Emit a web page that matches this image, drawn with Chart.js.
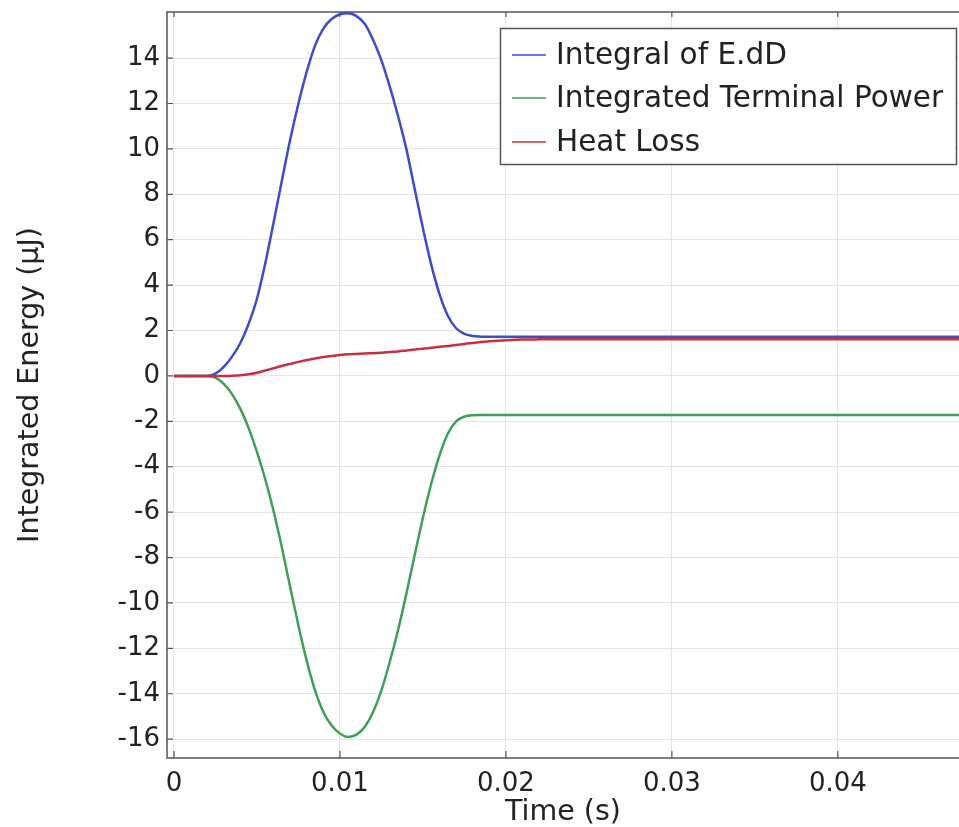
<!DOCTYPE html>
<html><head><meta charset="utf-8">
<script src="https://cdn.jsdelivr.net/npm/chart.js@4/dist/chart.umd.min.js"></script>
<style>html,body{margin:0;padding:0;background:#fff;overflow:hidden}#wrap{width:959px;height:827px;position:relative}canvas{display:block}</style>
</head><body><div id="wrap"><canvas id="c" width="959" height="827"></canvas></div>
<script>
// ---- data (time in s, energy in µJ) ----
const timeS = [0, 0.001, 0.002, 0.0025, 0.003, 0.0035, 0.004, 0.0045, 0.005, 0.0055, 0.006, 0.0065, 0.007, 0.0075, 0.008, 0.0085, 0.009, 0.0095, 0.01, 0.0105, 0.011, 0.0115, 0.012, 0.0125, 0.013, 0.0135, 0.014, 0.0145, 0.015, 0.0155, 0.016, 0.0165, 0.017, 0.0175, 0.018, 0.0185, 0.019, 0.02, 0.021, 0.022, 0.025, 0.03, 0.035, 0.04, 0.045, 0.048];
const integralEdD = [0, 0, 0, 0.1, 0.4, 0.85, 1.45, 2.3, 3.4, 4.95, 6.75, 8.6, 10.4, 12.0, 13.4, 14.55, 15.3, 15.72, 15.93, 15.98, 15.85, 15.5, 14.8, 13.9, 12.75, 11.45, 10.0, 8.25, 6.5, 4.9, 3.6, 2.65, 2.1, 1.85, 1.76, 1.73, 1.72, 1.72, 1.72, 1.72, 1.72, 1.72, 1.72, 1.72, 1.72, 1.72];
const terminalPower = [0, 0, 0, -0.08, -0.35, -0.8, -1.45, -2.3, -3.35, -4.55, -5.95, -7.55, -9.3, -11.0, -12.55, -13.85, -14.8, -15.4, -15.75, -15.9, -15.8, -15.45, -14.8, -13.85, -12.6, -11.2, -9.6, -7.9, -6.25, -4.75, -3.5, -2.55, -2.0, -1.79, -1.73, -1.72, -1.72, -1.72, -1.72, -1.72, -1.72, -1.72, -1.72, -1.72, -1.72, -1.72];
const heatLoss = [0, 0, 0, 0, 0, 0.01, 0.03, 0.07, 0.14, 0.24, 0.34, 0.44, 0.53, 0.62, 0.7, 0.77, 0.83, 0.88, 0.92, 0.95, 0.97, 0.99, 1.0, 1.02, 1.05, 1.08, 1.12, 1.16, 1.2, 1.24, 1.28, 1.32, 1.36, 1.41, 1.45, 1.49, 1.53, 1.57, 1.6, 1.61, 1.62, 1.62, 1.62, 1.62, 1.62, 1.62];
const seriesLabels = ['Integral of E.dD', 'Integrated Terminal Power', 'Heat Loss'];
const xTickValues = [0, 0.01, 0.02, 0.03, 0.04];
const xTickLabels = ['0', '0.01', '0.02', '0.03', '0.04'];
const yTickValues = [-16, -14, -12, -10, -8, -6, -4, -2, 0, 2, 4, 6, 8, 10, 12, 14];
const xTitle = 'Time (s)';
const yTitle = 'Integrated Energy (µJ)';

const FONT = "'DejaVu Sans', Verdana, sans-serif";
const colors = ['#3d4cc8', '#3f9f57', '#c8303f'];
const toPts = arr => timeS.map((t, i) => ({x: t, y: arr[i]}));

const framePlugin = {
  id: 'frame',
  beforeDatasetsDraw(chart) {
    const {ctx, chartArea: a, scales} = chart;
    ctx.save();
    ctx.strokeStyle = '#555';
    ctx.lineWidth = 1.5;
    ctx.beginPath();
    ctx.moveTo(a.right + 2, a.top); ctx.lineTo(a.left, a.top); ctx.lineTo(a.left, a.bottom); ctx.lineTo(a.right + 2, a.bottom);
    ctx.stroke();
    ctx.lineWidth = 1.2;
    ctx.beginPath();
    scales.y.ticks.forEach(t => {
      const y = scales.y.getPixelForValue(t.value);
      ctx.moveTo(a.left, y); ctx.lineTo(a.left + 6, y);
    });
    scales.x.ticks.forEach(t => {
      const x = scales.x.getPixelForValue(t.value);
      ctx.moveTo(x, a.bottom); ctx.lineTo(x, a.bottom - 7);
      ctx.moveTo(x, a.top); ctx.lineTo(x, a.top + 5);
    });
    ctx.stroke();
    ctx.restore();
  }
};

const legendPlugin = {
  id: 'boxLegend',
  afterDatasetsDraw(chart) {
    const {ctx} = chart;
    const bx = 500.5, by = 28.5, bw = 456, bh = 136;
    ctx.save();
    ctx.fillStyle = '#fff';
    ctx.fillRect(bx, by, bw, bh);
    ctx.strokeStyle = '#555';
    ctx.lineWidth = 1.5;
    ctx.strokeRect(bx, by, bw, bh);
    ctx.font = '29.5px ' + FONT;
    ctx.textBaseline = 'middle';
    ctx.fillStyle = '#222';
    const rows = [55, 98, 142];
    chart.data.datasets.forEach((ds, i) => {
      ctx.strokeStyle = ds.borderColor;
      ctx.lineWidth = 1.5;
      ctx.beginPath(); ctx.moveTo(512, rows[i]); ctx.lineTo(546, rows[i]); ctx.stroke();
      ctx.fillText(ds.label, 556, rows[i] + 1);
    });
    ctx.restore();
  }
};

new Chart(document.getElementById('c'), {
  type: 'line',
  data: {
    datasets: [
      {label: seriesLabels[0], data: toPts(integralEdD), borderColor: colors[0], order: 2},
      {label: seriesLabels[1], data: toPts(terminalPower), borderColor: colors[1], order: 1},
      {label: seriesLabels[2], data: toPts(heatLoss), borderColor: colors[2], order: 0}
    ].map(d => Object.assign(d, {borderWidth: 2.5, pointRadius: 0, fill: false, cubicInterpolationMode: 'monotone'}))
  },
  options: {
    responsive: false,
    animation: false,
    devicePixelRatio: 1,
    layout: {padding: {top: 12, right: 0, left: 0, bottom: 0}},
    plugins: {legend: {display: false}, tooltip: {enabled: false}},
    scales: {
      x: {
        type: 'linear', min: -0.00042, max: 0.0473,
        afterBuildTicks: s => { s.ticks = xTickValues.map(v => ({value: v})); },
        afterFit: s => { s.height = 69; s.paddingLeft = 0; s.paddingRight = 0; },
        grid: {color: '#e4e4e4', lineWidth: 1, drawTicks: false},
        border: {display: false},
        ticks: {font: {family: FONT, size: 26}, color: '#222', padding: 11, maxRotation: 0,
          callback: v => xTickLabels[xTickValues.indexOf(v)] ?? ''},
        title: {display: true, text: xTitle, color: '#222', font: {family: FONT, size: 28.5, lineHeight: 1}, padding: {top: 0, bottom: 0}}
      },
      y: {
        type: 'linear', min: -16.83, max: 16.03,
        afterBuildTicks: s => { s.ticks = yTickValues.map(v => ({value: v})); },
        afterFit: s => { s.width = 167; s.paddingTop = 0; s.paddingBottom = 0; },
        grid: {color: '#e4e4e4', lineWidth: 1, drawTicks: false},
        border: {display: false},
        ticks: {font: {family: FONT, size: 26}, color: '#222', padding: 7, callback: v => String(v)},
        title: {display: true, text: yTitle, color: '#222', font: {family: FONT, size: 28.5, lineHeight: 1}, padding: {top: 16, bottom: 0}}
      }
    }
  },
  plugins: [framePlugin, legendPlugin]
});
</script>
</body></html>
